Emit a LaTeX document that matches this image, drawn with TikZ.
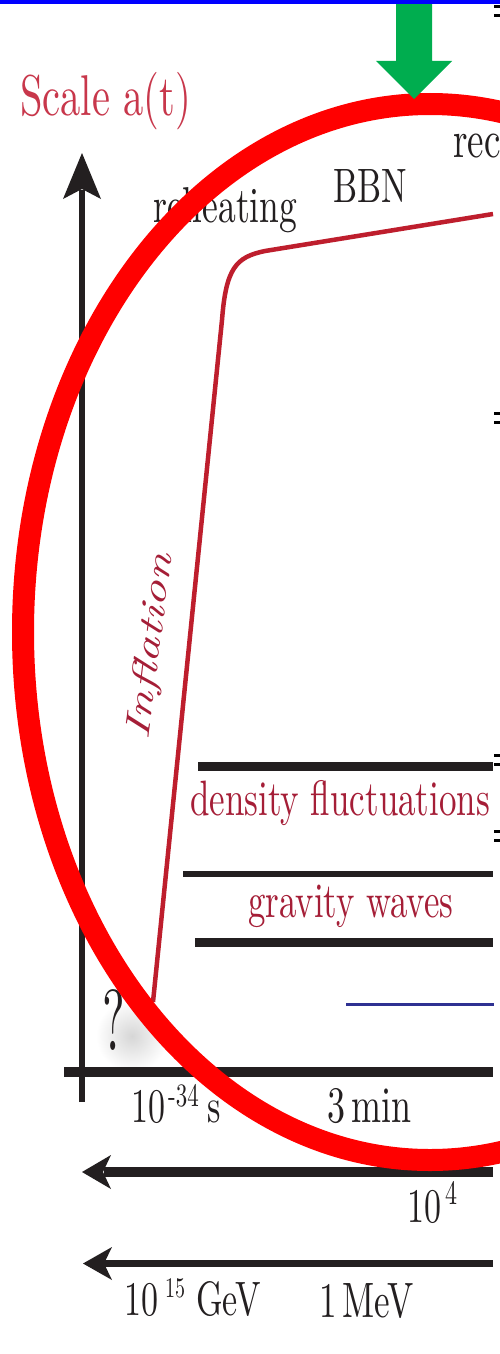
\documentclass[tikz,border=0pt]{standalone}
\usepackage{fontspec}
\setmainfont{lmroman10-regular.otf}[ItalicFont=lmroman10-italic.otf]
\definecolor{axisblack}{RGB}{35,31,32}
\definecolor{curvered}{RGB}{190,30,45}
\definecolor{textred}{RGB}{165,30,55}
\definecolor{scalered}{RGB}{200,55,75}
\definecolor{ellred}{RGB}{255,0,0}
\definecolor{arrowgreen}{RGB}{0,173,79}
\definecolor{topblue}{RGB}{0,0,255}
\definecolor{navyline}{RGB}{46,49,146}
\newcommand\myfs[1]{\fontsize{#1}{#1}\selectfont}
\begin{document}
\begin{tikzpicture}[x=1pt,y=-1pt,
  lbl/.style={inner sep=0pt, anchor=base west, yscale=1.42, text=axisblack},
  rlbl/.style={lbl, text=textred},
  bar/.style={axisblack, line cap=butt},
  tick/.style={fill=black}]
\clip (0,0) rectangle (500,1354);
\fill[white] (0,0) rectangle (500,1354);

% shadow behind the question mark
\shade[inner color=black!16, outer color=white] (132,1036) circle (36pt);

% texts
\node[lbl, text=scalered] (scale) at (20,115) {\myfs{40.5}Scale a(t)};
\node[lbl] (reheat) at (153,222) {\myfs{35.5}reheating};
\node[lbl] (bbn) at (333,202) {\myfs{34}BBN};
\node[lbl] (rec) at (453,157) {\myfs{37}rec};
\node[rlbl] (dens) at (190,815) {\myfs{35}density fluctuations};
\node[rlbl] (grav) at (248,917) {\myfs{34.8}gravity waves};
\node[inner sep=0pt, anchor=base, yscale=1.42, rotate=80, text=textred] (infl) at (160,648) {\myfs{35}\itshape Inflation};
\node[inner sep=0pt, anchor=base west, yscale=1.8, text=axisblack] (q) at (102,1050) {\myfs{48}?};

\node[lbl] (t1) at (131,1122) {\myfs{34}10\hspace{3pt}\raisebox{11pt}{\myfs{23}-34}\hspace{9pt}s};
\node[lbl] (t2) at (327,1122) {\myfs{36}3\,min};
\node[lbl] (t3) at (407,1222) {\myfs{34}10\hspace{4pt}\raisebox{12pt}{\myfs{24}4}};
\node[lbl] (e1) at (124,1315) {\myfs{34}10\hspace{7pt}\raisebox{12pt}{\myfs{20}15}\hspace{11pt}GeV};
\node[lbl] (e2) at (319,1317) {\myfs{35}1\,MeV};

% scale factor curve
\coordinate (c0) at (153,1002);
\coordinate (c1) at (222,320);
\coordinate (c2) at (265,251);
\coordinate (c3) at (493,214);
\draw[curvered, line width=4.5] (c0) -- (c1) .. controls (226,268) and (236,257) .. (c2) -- (c3);

% horizontal bands
\draw[bar, line width=9] (198,766.5) -- (493,766.5);
\draw[bar, line width=6] (183,874) -- (493,874);
\draw[bar, line width=9] (195,942.5) -- (493,942.5);
\draw[navyline, line width=3.5] (346,1004.5) -- (494,1004.5);

% axes
\draw[bar, line width=10] (64,1072) -- (493,1072);
\draw[bar, line width=6] (82,1102) -- (82,190);
\fill[axisblack] (82,153) -- (101,199) -- (82,189) -- (63,199) -- cycle;

% lower arrows
\draw[bar, line width=10] (493,1172) -- (104,1172);
\fill[axisblack] (82,1172) -- (111,1155) -- (103,1172) -- (111,1189) -- cycle;
\draw[bar, line width=7] (493,1263.5) -- (104,1263.5);
\fill[axisblack] (83,1263.5) -- (112,1247) -- (104,1263.5) -- (112,1280) -- cycle;

% right-edge marks
\fill[tick] (494,5) rectangle (500,8);
\fill[tick] (494,14) rectangle (500,17);
\fill[tick] (494,412) rectangle (500,414.5);
\fill[tick] (494,421) rectangle (500,424);
\fill[tick] (494,754) rectangle (500,757);
\fill[tick] (494,763) rectangle (500,766);
\fill[tick] (494,830) rectangle (500,833);
\fill[tick] (494,839) rectangle (500,842);

% red ellipse
\draw[ellred, line width=22] (430,632) ellipse [x radius=407pt, y radius=528pt];

% green arrow
\fill[arrowgreen] (396,0) -- (432,0) -- (432,61) -- (452,61) -- (414,99) -- (376,61) -- (396,61) -- cycle;

% top blue line
\fill[topblue] (0,0) rectangle (500,4.5);
\end{tikzpicture}
\end{document}
